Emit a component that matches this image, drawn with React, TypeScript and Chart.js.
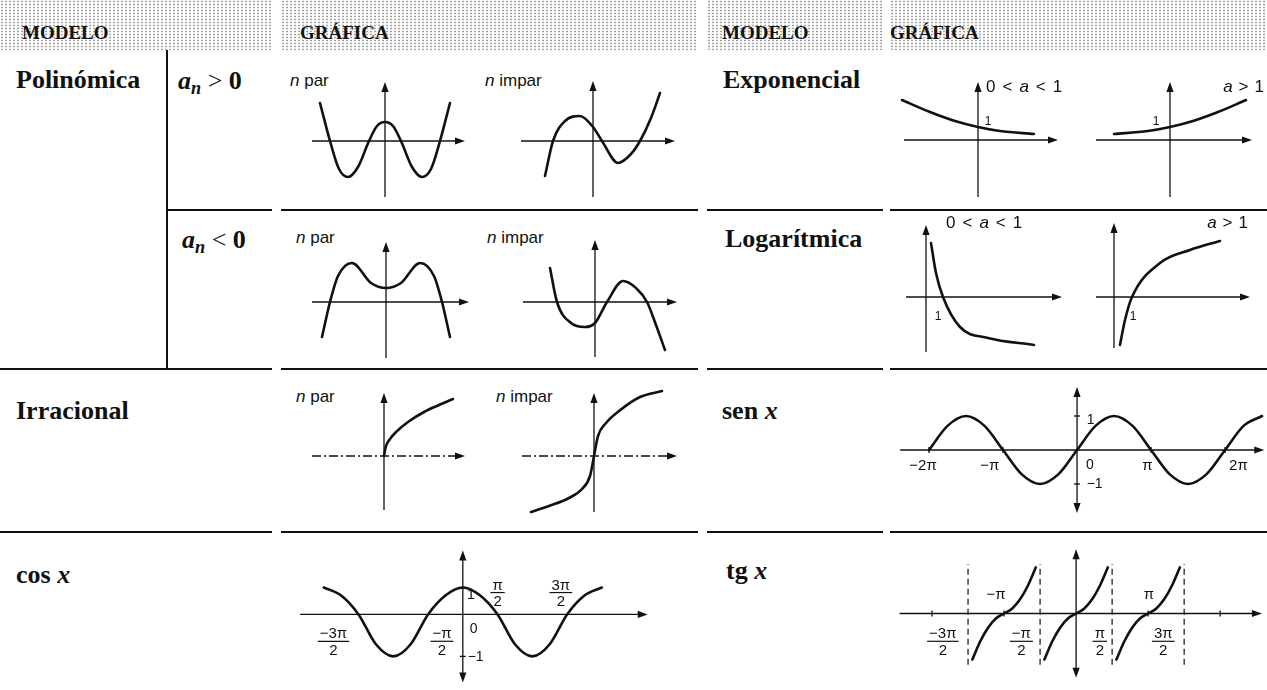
import React, { useEffect, useRef } from 'react';
import { Chart, registerables } from 'chart.js';

Chart.register(...registerables);

// ================= DATA =================
// Polinómica, a_n > 0, n par
const polyPosEvenX = [-6.5, -5.5, -4.6, -3.7, -2.7, -1.6, -0.8, 0, 0.8, 1.6, 2.7, 3.7, 4.6, 5.5, 6.5];
const polyPosEvenY = [3.8, 0, -2.8, -3.6, -2.6, 0, 1.5, 1.9, 1.5, 0, -2.6, -3.6, -2.8, 0, 3.8];
// Polinómica, a_n > 0, n impar
const polyPosOddX = [-4.8, -4.0, -2.8, -1.3, 0, 0.9, 2.5, 3.8, 4.7, 5.8, 6.7];
const polyPosOddY = [-3.5, 0, 2.0, 2.5, 1.4, 0, -2.2, -1.3, 0, 2.3, 4.8];
// Polinómica, a_n < 0, n par
const polyNegEvenX = [-6.4, -5.6, -4.8, -3.4, -1.5, 0, 1.5, 3.4, 4.8, 5.6, 6.4];
const polyNegEvenY = [-3.5, 0, 2.6, 3.9, 1.9, 1.4, 1.9, 3.9, 2.6, 0, -3.5];
// Polinómica, a_n < 0, n impar
const polyNegOddX = [-4.5, -3.8, -2.4, -1.0, 0, 1.2, 2.8, 4.1, 5.2, 6.1, 7.0];
const polyNegOddY = [3.4, 0, -2.1, -2.5, -2.1, 0, 2.1, 1.4, 0, -2.3, -4.8];
// Irracional, n par / n impar
const irrEvenX = [0, 0.2, 0.6, 1.2, 2.4, 4.0, 5.5, 6.9];
const irrEvenY = [0, 1.0, 1.7, 2.4, 3.4, 4.4, 5.1, 5.7];
const irrOddX = [-6.3, -4.5, -2.5, -1.2, -0.4, 0, 0.4, 1.2, 2.5, 4.6, 6.8];
const irrOddY = [-5.6, -5.0, -4.2, -3.3, -2.0, 0, 2.0, 3.3, 4.5, 5.9, 6.5];
// Exponencial 0<a<1 / a>1
const expDecX = [-7.6, -4.8, -2.3, 0, 2.2, 5.6];
const expDecY = [4.0, 2.8, 1.9, 1.3, 0.9, 0.6];
const expIncX = [-5.6, -2.2, 0, 2.3, 4.8, 7.6];
const expIncY = [0.6, 0.9, 1.3, 1.9, 2.8, 4.0];
// Logarítmica 0<a<1 / a>1
const logDecX = [0.5, 1.0, 1.7, 3.4, 6.2, 10.8];
const logDecY = [5.4, 2.4, 0, -3.0, -4.1, -4.8];
const logIncX = [0.6, 1.1, 1.8, 4.6, 7.6, 10.6];
const logIncY = [-4.8, -2.3, 0, 3.4, 4.7, 5.6];
// sen x (x in multiples of π)
const sinX = [-2, -1.75, -1.5, -1.25, -1, -0.75, -0.5, -0.25, 0, 0.25, 0.5, 0.75, 1, 1.25, 1.5, 1.75, 2, 2.25, 2.5];
const sinY = [0, 0.71, 1, 0.71, 0, -0.71, -1, -0.71, 0, 0.71, 1, 0.71, 0, -0.71, -1, -0.71, 0, 0.71, 1];
const sinTickLabels = ['−2π', '−π', 'π', '2π'];
const sinTickLabelX = [-2.08, -1.18, 0.95, 2.18];
const sinTicksX = [-2, -1, 1, 2];
const sinTicksY = [1, -1];
// cos x (x in multiples of π) – drawn with a shallower crest than trough
const cosX = [-2, -1.75, -1.5, -1.25, -1, -0.75, -0.5, -0.25, 0, 0.25, 0.5, 0.75, 1, 1.25, 1.5, 1.75, 2];
const cosY = [0.64, 0.45, 0, -0.71, -1, -0.71, 0, 0.45, 0.64, 0.45, 0, -0.71, -1, -0.71, 0, 0.45, 0.64];
const cosFracNum = ['−3π', '−π', 'π', '3π'];
const cosFracX = [-1.86, -0.3, 0.5, 1.41];
const cosFracBarY = [-0.64, -0.64, 0.52, 0.52];
const cosTicksY = [0.64, -1];
// tg x (x in multiples of π)
const tgBranchCenters = [-1, 0, 1];
const tgOffsetX = [-0.44, -0.33, -0.22, -0.11, 0, 0.11, 0.22, 0.33, 0.44];
const tgValues = [-5.3, -3.2, -1.6, -0.55, 0, 0.55, 1.6, 3.2, 5.3];
const tgAsymptotes = [-1.5, -0.5, 0.5, 1.5];
const tgTickLabels = ['−π', 'π'];
const tgTickLabelX = [-1.11, 1.01];
const tgFracNum = ['−3π', '−π', 'π', '3π'];
const tgFracX = [-1.85, -0.76, 0.33, 1.21];
const tgTicksX = [-2, -1, 1, 2];

// ================= STYLE =================
const SANS = '"Liberation Sans", Arial, sans-serif';
const SERIF = '"Liberation Serif", "Times New Roman", serif';
const INK = '#111';
const CURVE_W = 2.6;
const AXIS_W = 1.3;
const ARROW_L = 10;
const ARROW_HW = 3.6;

type Part = { t: string; it?: boolean };
type Label = { parts: Part[]; x: number; y: number; align?: 'left' | 'center' | 'right'; size?: number; gap?: number; base?: CanvasTextBaseline };
type Frac = { num: string; den: string; x: number; y: number };
type Curve = { x: number[]; y: number[] };
type PlotSpec = {
  ox: number; oy: number; ux: number; uy: number;
  xr: [number, number]; yr: [number, number];
  xAxis: [number, number]; yAxis: [number, number];
  yArrowDown?: boolean; xDash?: number[];
  curves: Curve[];
  vlines?: number[]; vRange?: [number, number];
  xTicks?: number[]; yTicks?: number[];
  labels?: Label[]; fracs?: Frac[];
};

const one = (t: string): Part[] => [{ t }];

function arrow(ctx: CanvasRenderingContext2D, tx: number, ty: number, dx: number, dy: number) {
  const bx = tx - dx * ARROW_L, by = ty - dy * ARROW_L;
  ctx.beginPath();
  ctx.moveTo(tx, ty);
  ctx.lineTo(bx - dy * ARROW_HW, by + dx * ARROW_HW);
  ctx.lineTo(bx + dy * ARROW_HW, by - dx * ARROW_HW);
  ctx.closePath();
  ctx.fill();
}

function seg(ctx: CanvasRenderingContext2D, a: number, b: number, c: number, d: number) {
  ctx.beginPath();
  ctx.moveTo(a, b);
  ctx.lineTo(c, d);
  ctx.stroke();
}

function makePlugin(spec: PlotSpec) {
  return {
    id: 'sketchAxes',
    beforeDatasetsDraw(chart: any) {
      const ctx: CanvasRenderingContext2D = chart.ctx;
      const px = (v: number) => chart.scales.x.getPixelForValue(v);
      const py = (v: number) => chart.scales.y.getPixelForValue(v);
      ctx.save();
      ctx.strokeStyle = INK;
      ctx.fillStyle = INK;
      ctx.lineWidth = AXIS_W;
      const y0 = py(0), x0 = px(0);
      // x axis
      const xa = px(spec.xAxis[0]), xb = px(spec.xAxis[1]);
      ctx.setLineDash(spec.xDash ?? []);
      seg(ctx, xa, y0, xb - ARROW_L + 1, y0);
      ctx.setLineDash([]);
      arrow(ctx, xb, y0, 1, 0);
      // y axis
      const yb = py(spec.yAxis[0]), yt = py(spec.yAxis[1]);
      seg(ctx, x0, spec.yArrowDown ? yb - ARROW_L + 1 : yb, x0, yt + ARROW_L - 1);
      arrow(ctx, x0, yt, 0, -1);
      if (spec.yArrowDown) arrow(ctx, x0, yb, 0, 1);
      // ticks
      (spec.xTicks ?? []).forEach((v) => seg(ctx, px(v), y0 - 3, px(v), y0 + 3));
      (spec.yTicks ?? []).forEach((v) => seg(ctx, x0 - 3, py(v), x0 + 3, py(v)));
      // dashed asymptotes
      if (spec.vlines && spec.vRange) {
        ctx.lineWidth = 1.2;
        ctx.setLineDash([6, 4]);
        spec.vlines.forEach((v) => seg(ctx, px(v), py(spec.vRange![0]), px(v), py(spec.vRange![1])));
        ctx.setLineDash([]);
      }
      ctx.restore();
    },
    afterDatasetsDraw(chart: any) {
      const ctx: CanvasRenderingContext2D = chart.ctx;
      const px = (v: number) => chart.scales.x.getPixelForValue(v);
      const py = (v: number) => chart.scales.y.getPixelForValue(v);
      ctx.save();
      ctx.fillStyle = INK;
      ctx.strokeStyle = INK;
      (spec.labels ?? []).forEach((l) => {
        const size = l.size ?? 14;
        const gap = l.gap ?? 0;
        const fonts = l.parts.map((p) => `${p.it ? 'italic ' : ''}${size}px ${SANS}`);
        const widths = l.parts.map((p, i) => {
          ctx.font = fonts[i];
          return ctx.measureText(p.t).width;
        });
        const total = widths.reduce((a, b) => a + b, 0) + gap * (l.parts.length - 1);
        let x = px(l.x);
        if (l.align === 'center') x -= total / 2;
        else if (l.align === 'right') x -= total;
        ctx.textAlign = 'left';
        ctx.textBaseline = l.base ?? 'middle';
        l.parts.forEach((p, i) => {
          ctx.font = fonts[i];
          ctx.fillText(p.t, x, py(l.y));
          x += widths[i] + gap;
        });
      });
      (spec.fracs ?? []).forEach((f) => {
        const size = 15;
        ctx.font = `${size}px ${SANS}`;
        const cx = px(f.x), by = py(f.y);
        const w = Math.max(ctx.measureText(f.num).width, ctx.measureText(f.den).width) + 4;
        ctx.textAlign = 'center';
        ctx.textBaseline = 'alphabetic';
        ctx.fillText(f.num, cx, by - 3);
        ctx.fillText(f.den, cx, by + size * 0.72 + 3);
        ctx.lineWidth = 1.2;
        seg(ctx, cx - w / 2, by, cx + w / 2, by);
      });
      ctx.restore();
    },
  };
}

function Graph({ spec }: { spec: PlotSpec }) {
  const ref = useRef<HTMLCanvasElement>(null);
  const w = Math.round((spec.xr[1] - spec.xr[0]) * spec.ux);
  const h = Math.round((spec.yr[1] - spec.yr[0]) * spec.uy);
  const left = Math.round(spec.ox + spec.xr[0] * spec.ux);
  const top = Math.round(spec.oy - spec.yr[1] * spec.uy);
  useEffect(() => {
    const chart = new Chart(ref.current as HTMLCanvasElement, {
      type: 'scatter',
      data: {
        datasets: spec.curves.map((c) => ({
          data: c.x.map((x, i) => ({ x, y: c.y[i] })),
          showLine: true,
          borderColor: INK,
          borderWidth: CURVE_W,
          borderCapStyle: 'round',
          borderJoinStyle: 'round',
          pointRadius: 0,
          pointHoverRadius: 0,
          cubicInterpolationMode: 'monotone',
          fill: false,
        })) as any,
      },
      options: {
        animation: false,
        responsive: false,
        maintainAspectRatio: false,
        devicePixelRatio: 1,
        events: [],
        layout: { padding: 0 },
        plugins: { legend: { display: false }, tooltip: { enabled: false } },
        scales: {
          x: { type: 'linear', min: spec.xr[0], max: spec.xr[1], display: false },
          y: { type: 'linear', min: spec.yr[0], max: spec.yr[1], display: false },
        },
      },
      plugins: [makePlugin(spec) as any],
    });
    return () => chart.destroy();
  }, []);
  return <canvas ref={ref} width={w} height={h} style={{ position: 'absolute', left, top, width: w, height: h }} />;
}

const smallPoly = (ox: number, oy: number, curve: Curve, xAxis: [number, number], yAxis: [number, number], xDash?: number[]): PlotSpec => ({
  ox, oy, ux: 10, uy: 10, xr: [-8, 9], yr: [-6.6, 7], xAxis, yAxis, curves: [curve], xDash,
});

const IRR_DASH = [9, 3, 2, 3];

const plots: PlotSpec[] = [
  smallPoly(385, 141, { x: polyPosEvenX, y: polyPosEvenY }, [-7.3, 8.0], [-5.6, 5.9]),
  smallPoly(593, 141, { x: polyPosOddX, y: polyPosOddY }, [-7.2, 8.2], [-5.6, 6.0]),
  smallPoly(386, 302, { x: polyNegEvenX, y: polyNegEvenY }, [-7.4, 8.3], [-5.6, 6.0]),
  smallPoly(595, 302, { x: polyNegOddX, y: polyNegOddY }, [-7.2, 8.2], [-5.5, 6.2]),
  smallPoly(384, 456, { x: irrEvenX, y: irrEvenY }, [-7.2, 8.1], [-5.4, 6.3], IRR_DASH),
  smallPoly(594, 456, { x: irrOddX, y: irrOddY }, [-7.2, 8.3], [-5.6, 6.3], IRR_DASH),
  {
    ox: 978, oy: 140, ux: 10, uy: 10, xr: [-8, 11], yr: [-6.6, 6.6],
    xAxis: [-7.4, 8.0], yAxis: [-5.7, 5.8], curves: [{ x: expDecX, y: expDecY }],
    labels: [
      { parts: one('1'), x: 1.0, y: 1.8, align: 'center', size: 12 },
      { parts: [{ t: '0' }, { t: '<' }, { t: 'a', it: true }, { t: '<' }, { t: '1' }], x: 0.8, y: 4.8, align: 'left', size: 17, gap: 7, base: 'alphabetic' },
    ],
  },
  {
    ox: 1170, oy: 140, ux: 10, uy: 10, xr: [-8, 9.7], yr: [-6.6, 6.6],
    xAxis: [-7.4, 8.2], yAxis: [-5.7, 5.8], curves: [{ x: expIncX, y: expIncY }],
    labels: [
      { parts: one('1'), x: -1.4, y: 1.8, align: 'center', size: 12 },
      { parts: [{ t: 'a', it: true }, { t: '>' }, { t: '1' }], x: 9.4, y: 4.8, align: 'right', size: 17, gap: 6, base: 'alphabetic' },
    ],
  },
  {
    ox: 926, oy: 297, ux: 10, uy: 10, xr: [-2.5, 14.5], yr: [-6.5, 8.6],
    xAxis: [-2.0, 13.6], yAxis: [-5.5, 7.2], curves: [{ x: logDecX, y: logDecY }],
    labels: [
      { parts: one('1'), x: 1.2, y: -2.0, align: 'center', size: 12 },
      { parts: [{ t: '0' }, { t: '<' }, { t: 'a', it: true }, { t: '<' }, { t: '1' }], x: 2.0, y: 6.9, align: 'left', size: 17, gap: 7, base: 'alphabetic' },
    ],
  },
  {
    ox: 1114, oy: 297, ux: 10, uy: 10, xr: [-2.5, 15.3], yr: [-6.5, 8.6],
    xAxis: [-1.8, 13.6], yAxis: [-5.1, 7.4], curves: [{ x: logIncX, y: logIncY }],
    labels: [
      { parts: one('1'), x: 1.9, y: -2.0, align: 'center', size: 12 },
      { parts: [{ t: 'a', it: true }, { t: '>' }, { t: '1' }], x: 13.4, y: 6.9, align: 'right', size: 17, gap: 6, base: 'alphabetic' },
    ],
  },
  {
    ox: 1077, oy: 450, ux: 74, uy: 34, xr: [-2.5, 2.58], yr: [-2, 2],
    xAxis: [-2.39, 2.53], yAxis: [-1.85, 1.85], yArrowDown: true,
    curves: [{ x: sinX, y: sinY }], xTicks: sinTicksX, yTicks: sinTicksY,
    labels: [
      ...sinTickLabels.map((t, i) => ({ parts: one(t), x: sinTickLabelX[i], y: -0.47, align: 'center' as const, size: 15 })),
      { parts: one('0'), x: 0.12, y: -0.44, align: 'left', size: 14 },
      { parts: one('1'), x: 0.13, y: 0.88, align: 'left', size: 14 },
      { parts: one('−1'), x: 0.13, y: -1.0, align: 'left', size: 14 },
    ],
  },
  {
    ox: 463, oy: 614, ux: 69.5, uy: 42, xr: [-2.5, 2.75], yr: [-1.8, 1.7],
    xAxis: [-2.34, 2.66], yAxis: [-1.62, 1.52], yArrowDown: true,
    curves: [{ x: cosX, y: cosY }], yTicks: cosTicksY,
    labels: [
      { parts: one('1'), x: 0.06, y: 0.45, align: 'left', size: 14 },
      { parts: one('0'), x: 0.1, y: -0.36, align: 'left', size: 14 },
      { parts: one('−1'), x: 0.07, y: -1.02, align: 'left', size: 14 },
    ],
    fracs: cosFracNum.map((n, i) => ({ num: n, den: '2', x: cosFracX[i], y: cosFracBarY[i] })),
  },
  {
    ox: 1076, oy: 614, ux: 72, uy: 8.7, xr: [-2.5, 2.65], yr: [-8, 8],
    xAxis: [-2.45, 2.58], yAxis: [-7.4, 7.4], yArrowDown: true,
    curves: tgBranchCenters.map((c) => ({ x: tgOffsetX.map((o) => c + o), y: tgValues })),
    vlines: tgAsymptotes, vRange: [-5.9, 5.7], xTicks: tgTicksX,
    labels: tgTickLabels.map((t, i) => ({ parts: one(t), x: tgTickLabelX[i], y: 2.2, align: 'center' as const, size: 15 })),
    fracs: tgFracNum.map((n, i) => ({ num: n, den: '2', x: tgFracX[i], y: -3.2 })),
  },
];

// ================= LAYOUT (HTML text + table rules) =================
function Txt({ x, b, size, family, bold, children }: { x: number; b: number; size: number; family: string; bold?: boolean; children: React.ReactNode }) {
  return (
    <div style={{ position: 'absolute', left: x, top: b - 0.84 * size, fontSize: size, lineHeight: `${size}px`, fontFamily: family, fontWeight: bold ? 700 : 400, whiteSpace: 'nowrap', color: INK }}>
      {children}
    </div>
  );
}

const An = ({ sign }: { sign: string }) => (
  <>
    <i>a</i>
    <i style={{ fontSize: '0.7em', position: 'relative', top: '0.28em' }}>n</i>
    <span style={{ fontWeight: 400 }}> {sign} </span>0
  </>
);

const Nlab = ({ x, b, t }: { x: number; b: number; t: string }) => (
  <Txt x={x} b={b} size={17} family={SANS}>
    <i>n</i> {t}
  </Txt>
);

const segsX: [number, number][] = [[0, 272], [281, 698], [707, 883], [890, 1267]];

function HLine({ y, a, b }: { y: number; a: number; b: number }) {
  return <div style={{ position: 'absolute', left: a, top: y, width: b - a, height: 2, background: INK }} />;
}

export default function App() {
  useEffect(() => {
    document.body.style.margin = '0';
  }, []);
  const stipple: React.CSSProperties = {
    position: 'absolute', top: 0, height: 50,
    backgroundColor: '#fff',
    backgroundImage: 'radial-gradient(circle, #a0a0a0 0.8px, rgba(255,255,255,0) 1.2px)',
    backgroundSize: '4px 3px',
  };
  return (
    <div style={{ position: 'absolute', left: 0, top: 0, width: 1267, height: 690, overflow: 'hidden', background: '#fff' }}>
      {segsX.map(([a, b], i) => (
        <div key={'st' + i} style={{ ...stipple, left: a, width: b - a }} />
      ))}
      <Txt x={22} b={39} size={19} family={SERIF} bold>MODELO</Txt>
      <Txt x={300} b={39} size={19} family={SERIF} bold>GRÁFICA</Txt>
      <Txt x={722} b={39} size={19} family={SERIF} bold>MODELO</Txt>
      <Txt x={890} b={39} size={19} family={SERIF} bold>GRÁFICA</Txt>

      {/* table rules */}
      <div style={{ position: 'absolute', left: 166, top: 50, width: 2, height: 320, background: INK }} />
      <HLine y={209} a={167} b={272} />
      {segsX.slice(1).map(([a, b], i) => <HLine key={'h1' + i} y={209} a={a} b={b} />)}
      {segsX.map(([a, b], i) => <HLine key={'h2' + i} y={368} a={a} b={b} />)}
      {segsX.map(([a, b], i) => <HLine key={'h3' + i} y={531} a={a} b={b} />)}

      {/* row titles */}
      <Txt x={16} b={89} size={26} family={SERIF} bold>Polinómica</Txt>
      <Txt x={178} b={90} size={26} family={SERIF} bold><An sign=">" /></Txt>
      <Txt x={182} b={249} size={26} family={SERIF} bold><An sign="<" /></Txt>
      <Txt x={723} b={89} size={26} family={SERIF} bold>Exponencial</Txt>
      <Txt x={725} b={248} size={26} family={SERIF} bold>Logarítmica</Txt>
      <Txt x={16} b={420} size={26} family={SERIF} bold>Irracional</Txt>
      <Txt x={722} b={420} size={26} family={SERIF} bold>sen <i>x</i></Txt>
      <Txt x={16} b={584} size={26} family={SERIF} bold>cos <i>x</i></Txt>
      <Txt x={726} b={580} size={26} family={SERIF} bold>tg <i>x</i></Txt>

      <Nlab x={290} b={86} t="par" />
      <Nlab x={485} b={86} t="impar" />
      <Nlab x={296} b={243} t="par" />
      <Nlab x={487} b={243} t="impar" />
      <Nlab x={296} b={402} t="par" />
      <Nlab x={496} b={402} t="impar" />

      {plots.map((p, i) => (
        <Graph key={i} spec={p} />
      ))}
    </div>
  );
}
